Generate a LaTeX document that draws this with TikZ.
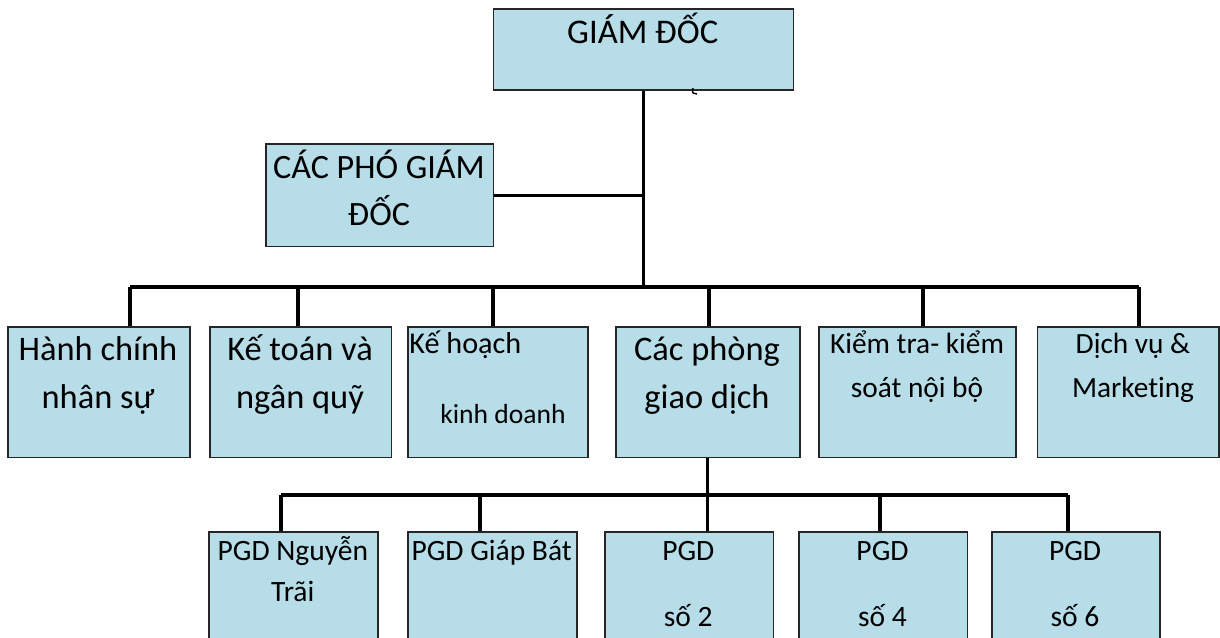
\documentclass[tikz,border=0pt]{standalone}
\usepackage{fontspec}
\setmainfont{Carlito}[Ligatures={NoCommon,NoContextual}]
\definecolor{boxblue}{HTML}{B7DDE8}

\begin{document}
\begin{tikzpicture}[x=0.02cm, y=-0.02cm,
    box/.style={draw=black!85, fill=boxblue, line width=1pt, inner sep=0pt, anchor=north west},
    txt/.style={inner sep=0pt, align=center, anchor=base},
    link/.style={line width=1.8pt}]
    \useasboundingbox (0,0) rectangle (1220,637);
    \clip (0,0) rectangle (1220,637);

    % ban giam doc
    \node[box, minimum width=6cm, minimum height=1.626cm] (giamdoc) at (492.7,8) {};
    \node[box, minimum width=4.554cm, minimum height=2.048cm] (phogd) at (265,143.3) {};

    % cac phong ban
    \node[box, minimum width=3.64cm, minimum height=2.614cm] (hcns) at (7.3,326) {};
    \node[box, minimum width=3.634cm, minimum height=2.614cm] (ktnq) at (209,326) {};
    \node[box, minimum width=3.6cm, minimum height=2.614cm] (khkd) at (407.3,326) {};
    \node[box, minimum width=3.68cm, minimum height=2.614cm] (cpgd) at (615,326) {};
    \node[box, minimum width=3.934cm, minimum height=2.614cm] (ktks) at (818.3,326) {};
    \node[box, minimum width=3.626cm, minimum height=2.614cm] (dvmk) at (1036.7,326) {};

    % phong giao dich
    \node[box, minimum width=3.38cm, minimum height=2.6cm] (nt) at (208.3,531) {};
    \node[box, minimum width=3.374cm, minimum height=2.6cm] (gb) at (407.3,531) {};
    \node[box, minimum width=3.374cm, minimum height=2.6cm] (so2) at (604,531) {};
    \node[box, minimum width=3.368cm, minimum height=2.6cm] (so4) at (798.3,531) {};
    \node[box, minimum width=3.366cm, minimum height=2.6cm] (so6) at (991,531) {};

    % chu (base = dong cuoi)
    \node[txt, font=\fontsize{19.7}{22}\selectfont] (giamdoc-t) at (642.7,43) {GIÁM ĐỐC};
    \node[txt, font=\fontsize{19.4}{26.7}\selectfont] (phogd-t) at (379,225) {CÁC PHÓ GIÁM\\ĐỐC};
    \node[txt, font=\fontsize{19.6}{27.3}\selectfont] (hcns-t) at (98,408) {Hành chính\\nhân sự};
    \node[txt, font=\fontsize{19.6}{27.3}\selectfont] (ktnq-t) at (300,408) {Kế toán và\\ngân quỹ};
    \node[txt, anchor=base west, align=left, font=\fontsize{15.7}{39.3}\selectfont] (khkd-t) at (409,423)
        {{\fontsize{17.2}{39.3}\selectfont Kế hoạch}\\\hspace*{17.6pt}kinh doanh};
    \node[txt, font=\fontsize{19.6}{27.3}\selectfont] (cpgd-t) at (707,408) {Các phòng\\giao dịch};
    \node[txt, font=\fontsize{16.7}{24.5}\selectfont] (ktks-t) at (917,397) {Kiểm tra- kiểm\\soát nội bộ};
    \node[txt, font=\fontsize{16.7}{24.5}\selectfont] (dvmk-t) at (1133,397) {Dịch vụ \&\\Marketing};
    \node[txt, font=\fontsize{16.8}{23.7}\selectfont] (nt-t) at (292.8,601.7) {PGD Nguyễn\\Trãi};
    \node[txt, font=\fontsize{16.8}{23.7}\selectfont] (gb-t) at (491.7,560) {PGD Giáp Bát};
    \node[txt, font=\fontsize{16.8}{23.7}\selectfont] (so2-t) at (688.3,626.7) {PGD\\[14.2pt]số 2};
    \node[txt, font=\fontsize{16.8}{23.7}\selectfont] (so4-t) at (882.5,626.7) {PGD\\[14.2pt]số 4};
    \node[txt, font=\fontsize{16.8}{23.7}\selectfont] (so6-t) at (1075,626.7) {PGD\\[14.2pt]số 6};

    % duong noi
    \coordinate (t1) at (130,287);
    \coordinate (t2) at (298,287);
    \coordinate (t3) at (493,287);
    \coordinate (t4) at (709,287);
    \coordinate (t5) at (923,287);
    \coordinate (t6) at (1139,287);
    \draw[link] (giamdoc.south) -- (giamdoc.south |- t1);
    \draw[link] (phogd.east) -- (phogd.east -| giamdoc.south);
    \draw[link] (t1) -- (t6);
    \foreach \b/\t in {hcns/t1, ktnq/t2, khkd/t3, cpgd/t4, ktks/t5, dvmk/t6}
        \draw[link] (\t) -- (\t |- \b.north);

    \coordinate (s1) at (281,495);
    \coordinate (s2) at (480,495);
    \coordinate (s4) at (880,495);
    \coordinate (s5) at (1068,495);
    \draw[link] (cpgd.south) -- (cpgd.south |- so2.north);
    \draw[link] (s1) -- (s5);
    \foreach \b/\t in {nt/s1, gb/s2, so4/s4, so6/s5}
        \draw[link] (\t) -- (\t |- \b.north);

    % dau nho duoi khung
    \draw[line width=0.8pt] (693,88) .. controls (692,93) .. (697,94);
\end{tikzpicture}
\end{document}
